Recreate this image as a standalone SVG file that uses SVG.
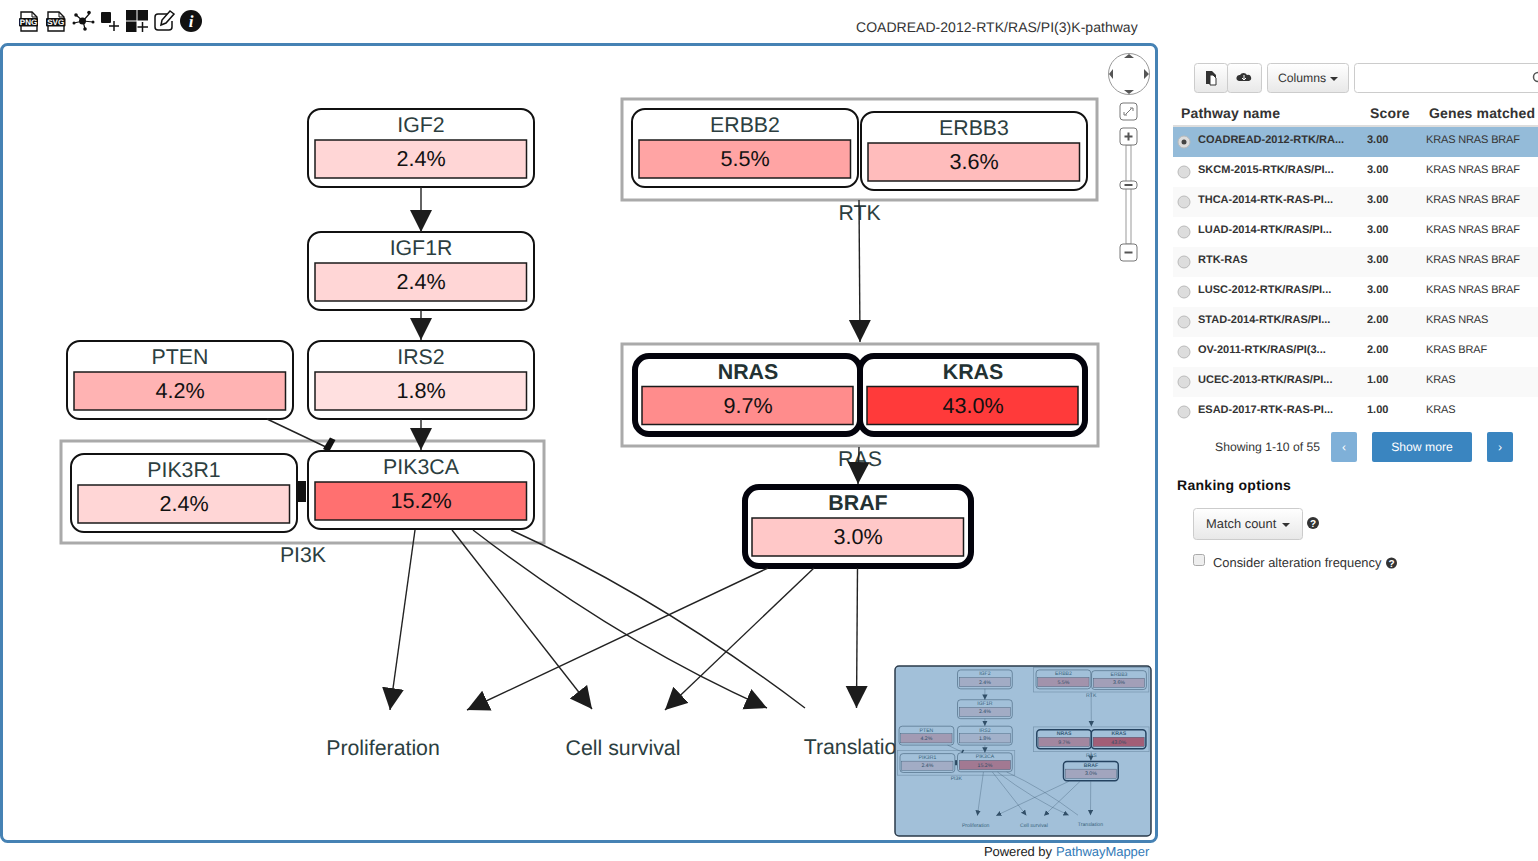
<svg xmlns="http://www.w3.org/2000/svg" xmlns:xlink="http://www.w3.org/1999/xlink" width="1538" height="861" viewBox="0 0 1538 861">
<style>
text{font-family:"Liberation Sans",Arial,sans-serif;text-rendering:geometricPrecision}
.n{fill:#fff;stroke:#111;stroke-width:2}
.h{fill:#fff;stroke:#03030c;stroke-width:6}
.b{stroke:#1a1a1a;stroke-width:1.500}
.l{font-size:21.300px;fill:#2c3e40;text-anchor:middle}
.lb{font-size:21.400px;fill:#233233;text-anchor:middle;font-weight:bold}
.v{font-size:21.600px;fill:#111;text-anchor:middle}
.g{fill:#fff;stroke:#aaa;stroke-width:3}
.e{fill:none;stroke:#222;stroke-width:1.400}
.a{marker-end:url(#ah)}
.rn{font-size:11px;font-weight:bold;fill:#333}
.rg{font-size:11px;fill:#333;letter-spacing:-.15px}
.rad{fill:#ddd;stroke:#bbb;stroke-width:1}
.btn{fill:url(#bg);stroke:#ccc;stroke-width:1}
.ctl{fill:#fff;stroke:#777;stroke-width:1}
.t12{font-size:12.200px;fill:#333}
.t13{font-size:12.900px;fill:#333}
.bb{fill:#3a85c0}
.w{font-size:12.200px;fill:#fff;text-anchor:middle}
.ic{fill:#111}
.q{font-size:10px;font-weight:bold;fill:#fff;text-anchor:middle}
.th{font-size:14px;font-weight:bold;fill:#333;letter-spacing:.15px}
</style>
<defs>
<linearGradient id="bg" x1="0" y1="0" x2="0" y2="1"><stop offset="0" stop-color="#fff"/><stop offset="1" stop-color="#e8e8e8"/></linearGradient>
<marker id="ah" markerUnits="userSpaceOnUse" markerWidth="26" markerHeight="26" refX="22" refY="11" orient="auto"><path d="M0,0L22,11L0,22Z" fill="#1c1c1c"/></marker>
<clipPath id="mc"><rect x="895" y="666" width="256" height="170" rx="4"/></clipPath>
</defs>
<rect width="1538" height="861" fill="#fff"/>

<g id="toolbar">
<g id="png"><path d="M21,12H32L37,17V31H21Z" fill="#fff" stroke="#111" stroke-width="1.400"/><path d="M32,12V17H37" fill="none" stroke="#111"/><rect x="19" y="18" width="19" height="8.500" rx="1" class="ic"/><text x="28.500" y="25.200" font-size="8" font-weight="bold" fill="#fff" text-anchor="middle">PNG</text></g>
<g id="svg"><path d="M48,12H59L64,17V31H48Z" fill="#fff" stroke="#111" stroke-width="1.400"/><path d="M59,12V17H64" fill="none" stroke="#111"/><rect x="46" y="18" width="19.500" height="8.500" rx="1" class="ic"/><text x="55.700" y="25.200" font-size="8" font-weight="bold" fill="#fff" text-anchor="middle">SVG</text></g>
<g id="layout" class="ic"><path d="M83,21L76,15M83,21L90,13M83,21L85,29M83,21L74,23M83,21L93,22" stroke="#111" stroke-width="1.200"/><circle cx="82.500" cy="21" r="3.500"/><circle cx="76" cy="15" r="1.800"/><circle cx="89" cy="12.500" r="1.800"/><circle cx="85" cy="29" r="1.800"/><circle cx="74" cy="23" r="1.500"/><circle cx="93" cy="22" r="1.500"/></g>
<g id="addnode" class="ic"><rect x="101" y="12" width="10" height="11" rx="1"/><path d="M114,21V31M109,26H119" stroke="#111" stroke-width="1.500"/></g>
<g id="addgroup" class="ic"><rect x="126" y="10" width="10.500" height="10.500"/><rect x="137.500" y="10" width="10.500" height="10.500"/><rect x="126" y="21.500" width="10.500" height="10.500"/><path d="M142.500,22V32M137.500,27H148" stroke="#111" stroke-width="1.500"/></g>
<g id="edit"><path d="M170,14H158A3,3 0 0 0 155,17V27A3,3 0 0 0 158,30H169A3,3 0 0 0 172,27V21" fill="none" stroke="#111" stroke-width="1.500"/><path d="M161,25L162,20L170,11L174,14L166,23Z" fill="#fff" stroke="#111" stroke-width="1.500"/></g>
<g id="info"><circle cx="191" cy="21" r="11" class="ic"/><text x="191" y="27" font-size="17" font-weight="bold" font-style="italic" fill="#fff" text-anchor="middle" style="font-family:'Liberation Serif',serif">i</text></g>
</g>
<text id="title" x="856" y="32" font-size="14" fill="#333" letter-spacing=".03">COADREAD-2012-RTK/RAS/PI(3)K-pathway</text>

<g id="canvas">
<rect x="1.500" y="44.500" width="1155" height="797" rx="6" fill="#fff" stroke="#4682b4" stroke-width="3"/>
<g id="graph">
<g id="rtk"><rect x="622" y="99" width="475" height="101" class="g"/><text x="859.500" y="219.500" class="l">RTK</text></g>
<g id="ras"><rect x="622" y="344" width="476" height="102" class="g"/><text x="860" y="466" class="l">RAS</text></g>
<g id="pi3k"><rect x="61" y="441" width="483" height="102" class="g"/><text x="303" y="562" class="l">PI3K</text></g>

<g id="igf2"><rect x="308" y="109" width="226" height="78" rx="13" class="n"/><rect x="315" y="140" width="211.500" height="38" fill="#ffd6d6" class="b"/><text x="421" y="131.500" class="l">IGF2</text><text x="421" y="165.500" class="v">2.4%</text></g>
<g id="igf1r"><rect x="308" y="232" width="226" height="78" rx="13" class="n"/><rect x="315" y="263" width="211.500" height="38" fill="#ffd6d6" class="b"/><text x="421" y="255" class="l">IGF1R</text><text x="421" y="288.500" class="v">2.4%</text></g>
<g id="pten"><rect x="67" y="341" width="226" height="78" rx="13" class="n"/><rect x="74" y="372" width="211.500" height="38" fill="#ffb3b3" class="b"/><text x="180" y="363.500" class="l">PTEN</text><text x="180" y="397.500" class="v">4.2%</text></g>
<g id="irs2"><rect x="308" y="341" width="226" height="78" rx="13" class="n"/><rect x="315" y="372" width="211.500" height="38" fill="#ffe0e0" class="b"/><text x="421" y="363.500" class="l">IRS2</text><text x="421" y="397.500" class="v">1.8%</text></g>
<g id="pik3r1"><rect x="71" y="454" width="226" height="78" rx="13" class="n"/><rect x="78" y="485" width="211.500" height="38" fill="#ffd6d6" class="b"/><text x="184" y="477" class="l">PIK3R1</text><text x="184" y="510.500" class="v">2.4%</text></g>
<g id="pik3ca"><rect x="308" y="451" width="226" height="78" rx="13" class="n"/><rect x="315" y="482" width="211.500" height="38" fill="#ff7070" class="b"/><text x="421" y="473.500" class="l">PIK3CA</text><text x="421" y="507.500" class="v">15.2%</text></g>
<g id="erbb2"><rect x="632" y="109" width="226" height="78" rx="13" class="n"/><rect x="639" y="140" width="211.500" height="38" fill="#ffa4a4" class="b"/><text x="745" y="131.500" class="l">ERBB2</text><text x="745" y="165.500" class="v">5.5%</text></g>
<g id="erbb3"><rect x="861" y="112" width="226" height="78" rx="13" class="n"/><rect x="868" y="143" width="211.500" height="38" fill="#ffbcbc" class="b"/><text x="974" y="134.500" class="l">ERBB3</text><text x="974" y="168.500" class="v">3.6%</text></g>
<g id="nras"><rect x="635" y="356" width="225" height="78" rx="14" class="h"/><rect x="642" y="386.500" width="211" height="38" fill="#ff8c8c" class="b"/><text x="748" y="379" class="lb">NRAS</text><text x="748" y="412.500" class="v">9.7%</text></g>
<g id="kras"><rect x="860" y="356" width="225" height="78" rx="14" class="h"/><rect x="867" y="386.500" width="211" height="38" fill="#ff3a3a" class="b"/><text x="973" y="379" class="lb">KRAS</text><text x="973" y="412.500" class="v">43.0%</text></g>
<g id="braf"><rect x="745" y="487" width="226" height="79" rx="14" class="h"/><rect x="752" y="518" width="211.500" height="38" fill="#ffc8c8" class="b"/><text x="858" y="510" class="lb">BRAF</text><text x="858" y="544" class="v">3.0%</text></g>
<g id="proliferation"><text x="383" y="755" class="l">Proliferation</text></g>
<g id="cellsurvival"><text x="623" y="755" class="l">Cell survival</text></g>
<g id="translation"><text x="856" y="754" class="l">Translation</text></g>

<g id="connectors">
<path class="e a" d="M421,187V232"/>
<path class="e a" d="M421,310V340"/>
<path class="e a" d="M421,419V450"/>
<path class="e a" d="M859,200L860,342"/>
<path class="e a" d="M859,447L858,484"/>
<path class="e a" d="M415,530L390,710"/>
<path class="e a" d="M452,530L592,709"/>
<path class="e a" d="M473,530Q620,643 767,708"/>
<path class="e" d="M511,530Q658,597 805,708"/>
<path class="e a" d="M768,568L467,710"/>
<path class="e a" d="M814,568L665,710"/>
<path class="e a" d="M857.500,568L856.500,708"/>
<path class="e" d="M267,419L328,448"/>
<path d="M330,437.500L335.500,440L329,452L323,449Z" fill="#111"/>
<rect x="298" y="481" width="8" height="21" fill="#111"/>
</g>
</g>
</g>

<g id="navigator">
<circle cx="1129" cy="74" r="20.500" fill="#fff" stroke="#999"/>
<path d="M1124,58L1129,54L1134,58ZM1124,90L1134,90L1129,94ZM1113,69V79L1109,74ZM1144,69V79L1149,74Z" fill="#555"/>
<rect x="1120" y="103" width="17" height="17" rx="3" class="ctl"/><path d="M1125.500,114.500L1131.500,108.500M1130,108H1133V111M1124,112V115H1127" fill="none" stroke="#777" stroke-width="1"/>
<rect x="1126" y="145" width="5" height="99" fill="#fff" stroke="#999"/>
<rect x="1120" y="128" width="17" height="17" rx="3" class="ctl"/><path d="M1124.500,136.500H1132.500M1128.500,132.500V140.500" stroke="#555" stroke-width="2"/>
<rect x="1120" y="181" width="17" height="8" rx="3" class="ctl"/><path d="M1124.500,185H1132.500" stroke="#555" stroke-width="2"/>
<rect x="1120" y="244" width="17" height="17" rx="3" class="ctl"/><path d="M1124.500,252.500H1132.500" stroke="#555" stroke-width="2"/>
</g>

<g id="minimap">
<g clip-path="url(#mc)">
<rect x="895" y="666" width="256" height="170" fill="#fff"/>
<use href="#graph" xlink:href="#graph" transform="translate(882.800 643.500) scale(.2425)"/>
<rect x="895" y="666" width="256" height="170" fill="#4682b4" fill-opacity=".5"/>
</g>
<rect x="895" y="666" width="256" height="170" rx="4" fill="none" stroke="#2a3a4a" stroke-width="1.500"/>
</g>

<g id="footer"><text x="984" y="856" font-size="13" fill="#222" letter-spacing="-.08">Powered by</text><text x="1056" y="856" font-size="13" fill="#337ab7" letter-spacing="-.06">PathwayMapper</text></g>

<g id="table-tools">
<rect x="1194.500" y="63.500" width="33" height="29" rx="3" class="btn"/><rect x="1227.500" y="63.500" width="34" height="29" rx="3" class="btn"/>
<path d="M1206,71H1212L1216,75V84H1206Z" fill="#333"/><path d="M1210,75H1213L1216,78V85H1210Z" fill="#fff" stroke="#333"/>
<path d="M1239,81A3,3 0 0 1 1240,75A4,4 0 0 1 1247,75A3,3 0 0 1 1249,81Z" fill="#333"/><path d="M1244,75V80M1242,78L1244,80L1246,78" stroke="#fff" fill="none"/>
<rect x="1267.500" y="63.500" width="81" height="29" rx="3" class="btn"/><text x="1278" y="82" class="t12">Columns</text><path d="M1330,77H1338L1334,81Z" fill="#333"/>
<rect x="1354.500" y="63.500" width="190" height="29" rx="3" fill="#fff" stroke="#ccc"/>
<circle cx="1538" cy="77" r="4.500" fill="none" stroke="#555" stroke-width="1.500"/>
</g>

<g id="table">
<text x="1181" y="118" class="th">Pathway name</text>
<text x="1370" y="118" class="th">Score</text>
<text x="1429" y="118" class="th">Genes matched</text>
<rect x="1173" y="125" width="365" height="2" fill="#ddd"/>
<rect x="1173" y="127" width="365" height="30" fill="#94bbd9"/>
<rect x="1173" y="187" width="365" height="30" fill="#f9f9f9"/>
<rect x="1173" y="247" width="365" height="30" fill="#f9f9f9"/>
<rect x="1173" y="307" width="365" height="30" fill="#f9f9f9"/>
<rect x="1173" y="367" width="365" height="30" fill="#f9f9f9"/>
<circle cx="1184" cy="142" r="6" class="rad"/><circle cx="1184" cy="142" r="2.500" fill="#444"/>
<circle cx="1184" cy="172" r="6" class="rad"/><circle cx="1184" cy="202" r="6" class="rad"/><circle cx="1184" cy="232" r="6" class="rad"/><circle cx="1184" cy="262" r="6" class="rad"/><circle cx="1184" cy="292" r="6" class="rad"/><circle cx="1184" cy="322" r="6" class="rad"/><circle cx="1184" cy="352" r="6" class="rad"/><circle cx="1184" cy="382" r="6" class="rad"/><circle cx="1184" cy="412" r="6" class="rad"/>
<text x="1198" y="143" class="rn">COADREAD-2012-RTK/RA...</text><text x="1367" y="143" class="rn">3.00</text><text x="1426" y="143" class="rg">KRAS NRAS BRAF</text>
<text x="1198" y="173" class="rn">SKCM-2015-RTK/RAS/PI...</text><text x="1367" y="173" class="rn">3.00</text><text x="1426" y="173" class="rg">KRAS NRAS BRAF</text>
<text x="1198" y="203" class="rn">THCA-2014-RTK-RAS-PI...</text><text x="1367" y="203" class="rn">3.00</text><text x="1426" y="203" class="rg">KRAS NRAS BRAF</text>
<text x="1198" y="233" class="rn">LUAD-2014-RTK/RAS/PI...</text><text x="1367" y="233" class="rn">3.00</text><text x="1426" y="233" class="rg">KRAS NRAS BRAF</text>
<text x="1198" y="263" class="rn">RTK-RAS</text><text x="1367" y="263" class="rn">3.00</text><text x="1426" y="263" class="rg">KRAS NRAS BRAF</text>
<text x="1198" y="293" class="rn">LUSC-2012-RTK/RAS/PI...</text><text x="1367" y="293" class="rn">3.00</text><text x="1426" y="293" class="rg">KRAS NRAS BRAF</text>
<text x="1198" y="323" class="rn">STAD-2014-RTK/RAS/PI...</text><text x="1367" y="323" class="rn">2.00</text><text x="1426" y="323" class="rg">KRAS NRAS</text>
<text x="1198" y="353" class="rn">OV-2011-RTK/RAS/PI(3...</text><text x="1367" y="353" class="rn">2.00</text><text x="1426" y="353" class="rg">KRAS BRAF</text>
<text x="1198" y="383" class="rn">UCEC-2013-RTK/RAS/PI...</text><text x="1367" y="383" class="rn">1.00</text><text x="1426" y="383" class="rg">KRAS</text>
<text x="1198" y="413" class="rn">ESAD-2017-RTK-RAS-PI...</text><text x="1367" y="413" class="rn">1.00</text><text x="1426" y="413" class="rg">KRAS</text>
</g>

<g id="pager">
<text x="1215" y="451" class="t12">Showing 1-10 of 55</text>
<rect x="1331" y="432" width="26" height="30" rx="2" fill="#7fb0d8"/><text x="1344" y="451" class="w">‹</text>
<rect x="1372" y="432" width="100" height="30" rx="2" class="bb"/><text x="1422" y="451" class="w">Show more</text>
<rect x="1487" y="432" width="26" height="30" rx="2" class="bb"/><text x="1500" y="451" class="w">›</text>
</g>

<g id="ranking">
<text x="1177" y="490" font-size="14" font-weight="bold" fill="#111" letter-spacing=".3">Ranking options</text>
<rect x="1193.500" y="508.500" width="109" height="31" rx="3" class="btn"/><text x="1206" y="528" class="t13">Match count</text><path d="M1282,523H1290L1286,527Z" fill="#333"/>
<circle cx="1313" cy="523" r="6" fill="#333"/><text x="1313" y="527" class="q">?</text>
<rect x="1193.500" y="554.500" width="11" height="11" rx="2" fill="#eee" stroke="#aaa"/>
<text x="1213" y="567" class="t13">Consider alteration frequency</text>
<circle cx="1391.500" cy="563" r="5.500" fill="#333"/><text x="1391.500" y="566.500" class="q">?</text>
</g>
</svg>
